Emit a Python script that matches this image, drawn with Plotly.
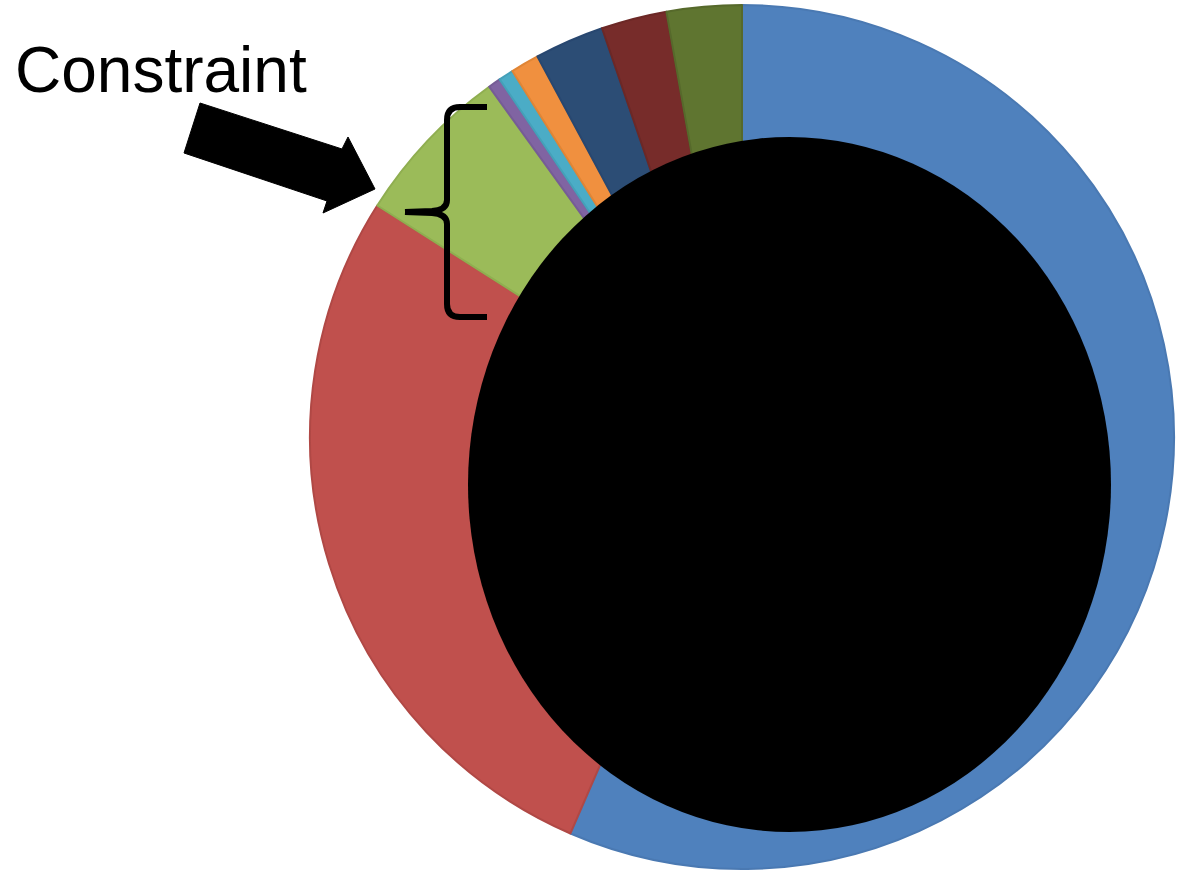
import plotly.graph_objects as go

# Slice data (clockwise from 12 o'clock)
segments = ["A", "B", "C", "D", "E", "F", "G", "H", "I"]
shares = [56.5, 27.5, 6.05, 0.47, 0.56, 1.07, 2.6, 2.45, 2.8]
fill_colors = ["#4F81BD", "#C0504D", "#9BBB59", "#8064A2", "#4BACC6",
               "#F0903F", "#2C4D75", "#772C2A", "#5F7530"]
edge_colors = ["#4A79B2", "#B04845", "#8FAE50", "#765C96", "#44A0B9",
               "#E08535", "#284770", "#6C2826", "#56692B"]

W, H = 1178, 872


def px(x):
    return x / W


def py(y):
    return 1 - y / H


def to_paper_path(cmds):
    out = []
    for c in cmds:
        if isinstance(c, str):
            out.append(c)
        else:
            out.append(f"{px(c[0]):.5f},{py(c[1]):.5f}")
    return " ".join(out)


fig = go.Figure()
fig.add_trace(go.Pie(
    labels=segments,
    values=shares,
    sort=False,
    direction="clockwise",
    rotation=0,
    marker=dict(colors=fill_colors, line=dict(color=edge_colors, width=2)),
    textinfo="none",
    hoverinfo="skip",
    showlegend=False,
    domain=dict(x=[px(310), px(1174)], y=[py(869), py(5)]),
))

# Block arrow pointing at the small slices
arrow = to_paper_path([
    "M", (200, 103), "L", (342, 149), "L", (348, 137), "L", (375, 189),
    "L", (323, 213), "L", (327, 201), "L", (184, 153), "Z",
])

# Curly brace spanning the green slice
brace = to_paper_path([
    "M", (487, 107), "L", (460, 107), "Q", (447, 107), (447, 120),
    "L", (447, 200), "Q", (447, 210), (432, 211), "L", (405, 212),
    "M", (405, 212), "L", (432, 213), "Q", (447, 214), (447, 224),
    "L", (447, 304), "Q", (447, 317), (460, 317), "L", (487, 317),
])

fig.update_layout(
    width=W, height=H,
    margin=dict(l=0, r=0, t=0, b=0),
    paper_bgcolor="white",
    plot_bgcolor="white",
    shapes=[
        dict(type="circle", xref="paper", yref="paper",
             x0=px(468), x1=px(1111), y0=py(832), y1=py(137),
             fillcolor="black", line=dict(color="black", width=0)),
        dict(type="path", xref="paper", yref="paper", path=arrow,
             fillcolor="black", line=dict(color="black", width=1)),
        dict(type="path", xref="paper", yref="paper", path=brace,
             fillcolor="rgba(0,0,0,0)",
             line=dict(color="black", width=6)),
    ],
    annotations=[
        dict(text="Constraint", xref="paper", yref="paper",
             x=px(13), y=py(70), xanchor="left", yanchor="middle",
             showarrow=False,
             font=dict(family="Liberation Sans, Arial", size=64, color="black")),
    ],
)

fig.write_html("out.html")
